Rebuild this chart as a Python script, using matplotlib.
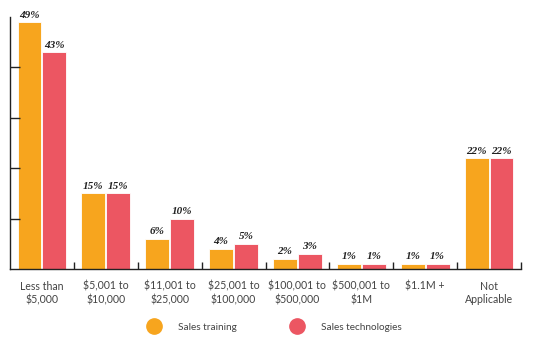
import matplotlib
matplotlib.use("Agg")
import matplotlib.pyplot as plt
from matplotlib.lines import Line2D
import numpy as np

categories = ["Less than\n$5,000", "$5,001 to\n$10,000", "$11,001 to\n$25,000",
              "$25,001 to\n$100,000", "$100,001 to\n$500,000", "$500,001 to\n$1M",
              "$1.1M +", "Not\nApplicable"]
sales_training = [49, 15, 6, 4, 2, 1, 1, 22]
sales_technologies = [43, 15, 10, 5, 3, 1, 1, 22]
series_names = ["Sales training", "Sales technologies"]

c_orange = "#F7A51E"
c_red = "#EC5662"

fig = plt.figure(figsize=(5.5, 3.4), dpi=100)
ax = fig.add_axes([10/550, 1 - 269/340, (521 - 10)/550, (269 - 17)/340])

x = np.arange(len(categories))
w = 0.375
off = 0.195
b1 = ax.bar(x - off, sales_training, width=w, color=c_orange, edgecolor="white", linewidth=0.6)
b2 = ax.bar(x + off, sales_technologies, width=w, color=c_red, edgecolor="white", linewidth=0.6)

lab_font = dict(family="Liberation Serif", style="italic", weight="bold", fontsize=8, color="#222222")
for bars, vals in ((b1, sales_training), (b2, sales_technologies)):
    for r, v in zip(bars, vals):
        ax.text(r.get_x() + r.get_width()/2, v + 0.5, f"{v}%", ha="center", va="bottom", **lab_font)

ax.set_xlim(-0.5, len(categories) - 0.5)
ax.set_ylim(0, 50)
ax.set_yticks([10, 20, 30, 40])
ax.set_yticklabels([])
ax.tick_params(axis="y", direction="in", length=7, width=1, color="#222222")
ax.set_xticks(np.arange(len(categories)) + 0.5, minor=False)
ax.set_xticklabels([])
ax.tick_params(axis="x", direction="in", length=5, width=1, color="#222222")
for s in ("top", "right"):
    ax.spines[s].set_visible(False)
for s in ("left", "bottom"):
    ax.spines[s].set_color("#222222")
    ax.spines[s].set_linewidth(1)

for i, c in enumerate(categories):
    ax.text(i, -2.3, c, ha="center", va="top", fontsize=7.6, family="Lato",
            color="#444444", linespacing=1.3)

handles = [Line2D([], [], marker="o", linestyle="none", markersize=11, color=c_orange),
           Line2D([], [], marker="o", linestyle="none", markersize=11, color=c_red)]
fig.legend(handles, series_names, loc="center", bbox_to_anchor=(273/550, 1 - 327/340),
           ncol=2, frameon=False, columnspacing=5.0, handletextpad=1.4,
           prop=dict(family="Lato", size=7.2))
for t in fig.legends[0].get_texts():
    t.set_color("#444444")

fig.savefig("out.png", dpi=100)
